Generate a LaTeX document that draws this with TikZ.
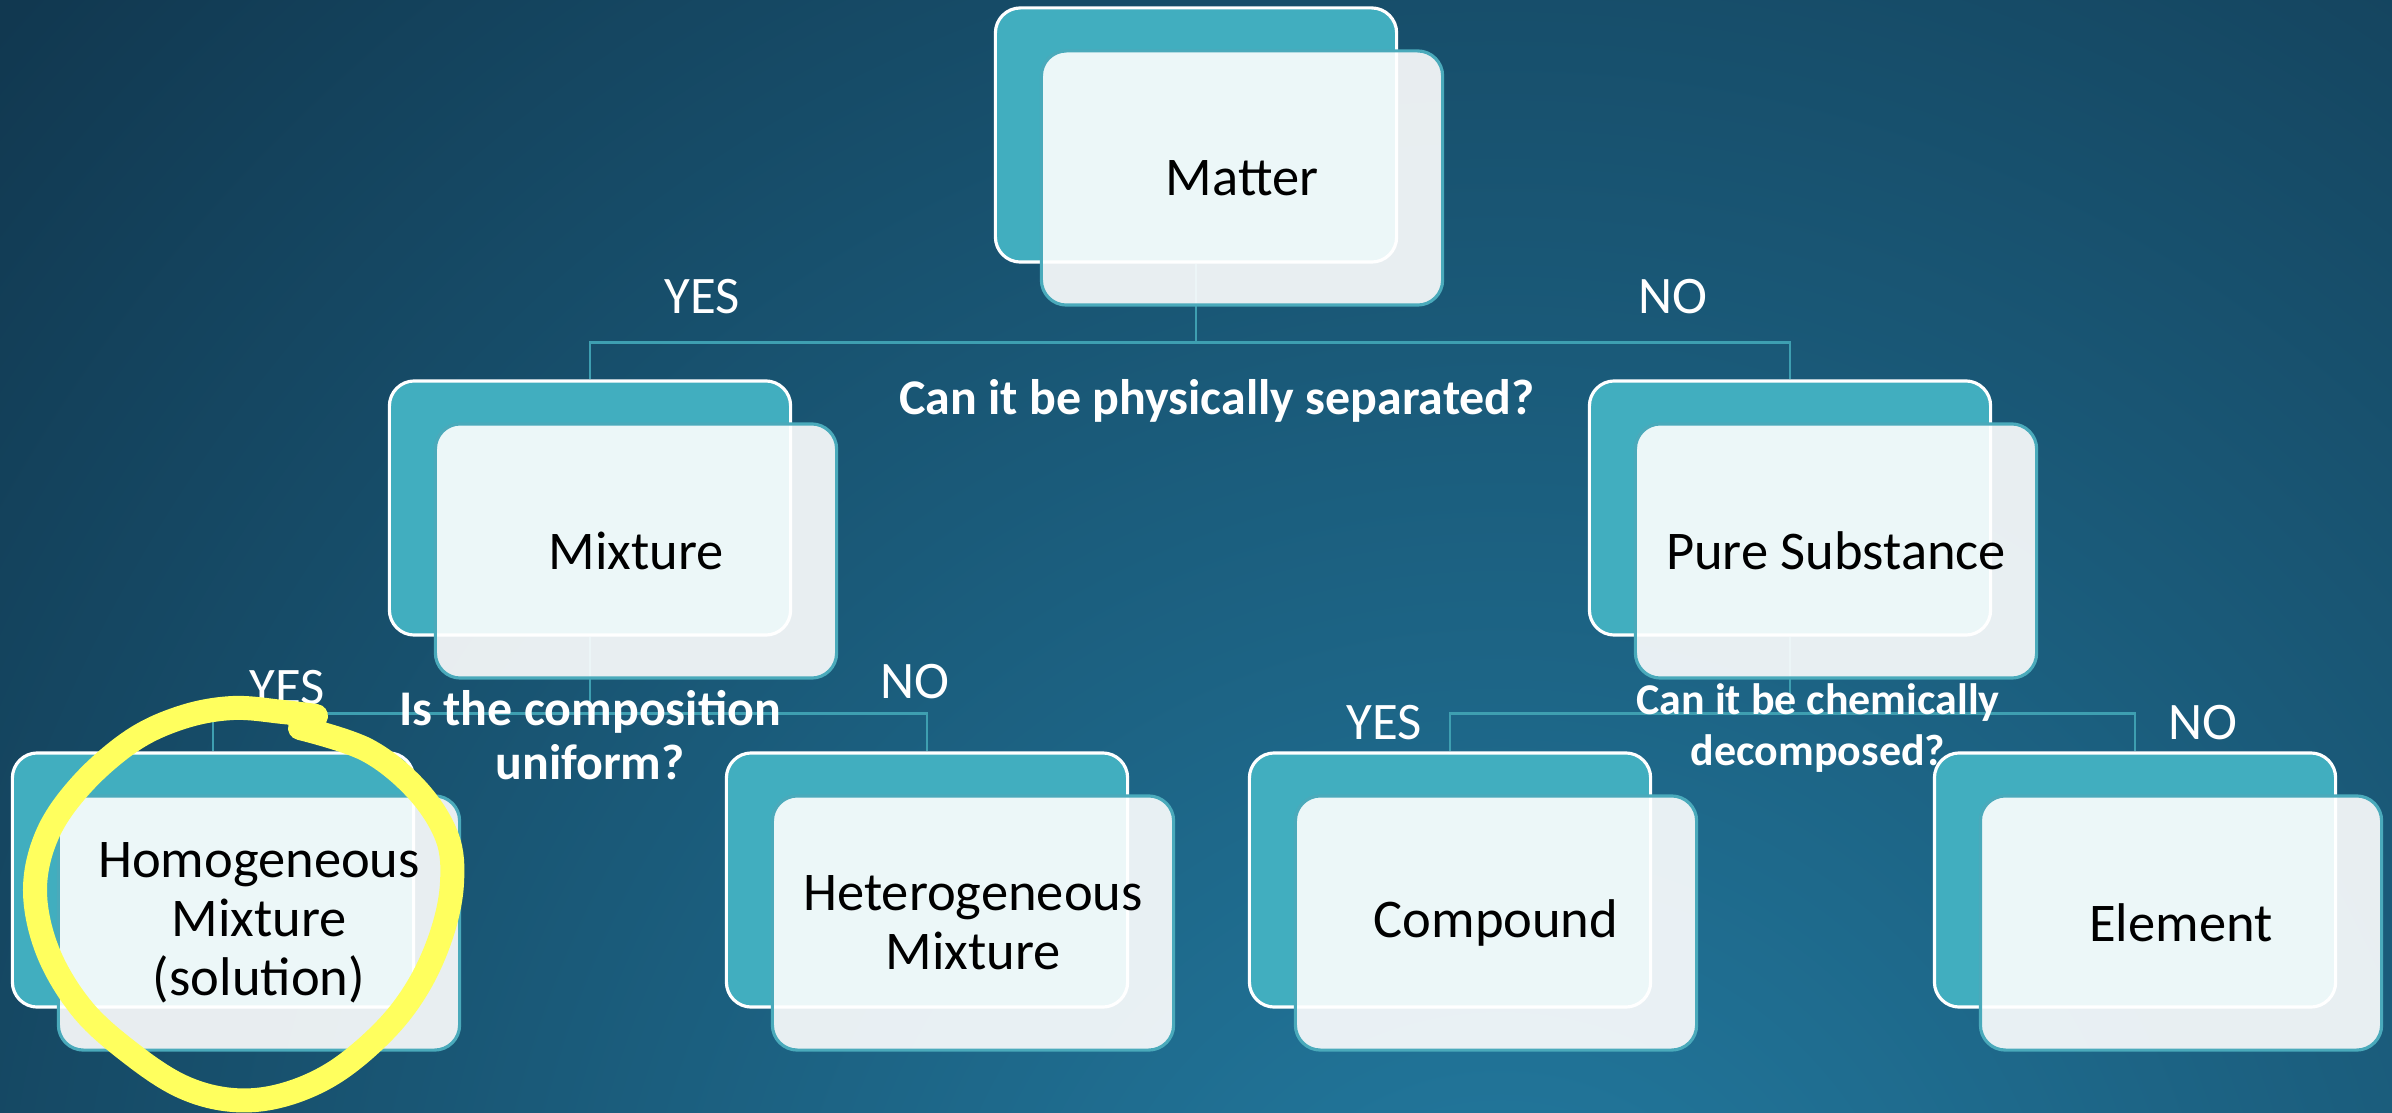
\documentclass[tikz,border=0pt]{standalone}
\usepackage{fontspec}
\setmainfont{Carlito}
\usetikzlibrary{positioning}
\definecolor{bgDark}{HTML}{113850}
\definecolor{bgLight}{HTML}{237CA2}
\definecolor{boxTeal}{HTML}{41AEBF}
\definecolor{edgeTeal}{HTML}{4AAABB}
\definecolor{lineTeal}{HTML}{3E9FB1}
\definecolor{ringYellow}{HTML}{FFFF5E}
\pgfdeclarelayer{back}
\pgfdeclarelayer{wires}
\pgfsetlayers{back,wires,main}

\begin{document}
\begin{tikzpicture}[x=0.01cm, y=-0.01cm,
  backbox/.style={draw=white, line width=0.9pt, fill=boxTeal, rounded corners=0.25cm,
    minimum width=4.01cm, minimum height=2.54cm},
  frontbox/.style={draw=edgeTeal, line width=0.9pt, fill=white, fill opacity=0.9, text opacity=1,
    rounded corners=0.25cm, minimum width=4.01cm, minimum height=2.54cm, inner sep=0pt,
    align=center, font=\fontsize{15.5}{16.8}\selectfont},
  branch/.style={draw=lineTeal, line width=0.7pt},
  answer/.style={text=white, font=\fontsize{15}{18}\selectfont},
  question/.style={text=white, align=center, font=\bfseries\fontsize{14.2}{15.2}\selectfont},
  ring/.style={draw=ringYellow, line width=0.24cm, line cap=round, line join=round}]
\useasboundingbox (0,0) rectangle (2392,1113);
% background
\begin{pgfonlayer}{back}
\clip (0,0) rectangle (2392,1113);
\fill[bgDark] (0,0) rectangle (2392,1113);
\shade[inner color=bgLight, outer color=bgDark] (1500,1350) circle (2000);
\end{pgfonlayer}

% top level
\node[backbox] (matb) at (1196,135) {};
\node[frontbox] (mat) at ([shift={(46,43)}]matb) {Matter};

% second level
\node[backbox] (mixb) at (590,508) {};
\node[frontbox] (mix) at ([shift={(46,43)}]mixb) {Mixture};
\node[backbox] (pureb) at (1790,508) {};
\node[frontbox] (pure) at ([shift={(46,43)}]pureb) {Pure Substance};

% third level
\node[backbox] (homb) at (213,880) {};
\node[frontbox] (hom) at ([shift={(46,43)}]homb) {Homogeneous\\Mixture\\(solution)};
\node[backbox] (hetb) at (927,880) {};
\node[frontbox] (het) at ([shift={(46,43)}]hetb) {Heterogeneous\\Mixture};
\node[backbox] (comb) at (1450,880) {};
\node[frontbox] (com) at ([shift={(46,43)}]comb) {Compound};
\node[backbox] (eleb) at (2135,880) {};
\node[frontbox] (ele) at ([shift={(46,43)}]eleb) {Element};

% connectors
\begin{pgfonlayer}{wires}
\draw[branch] (matb.south) -- ++(0,79) coordinate (bar1);
\draw[branch] (mixb.north) |- (bar1) -| (pureb.north);
\draw[branch] (mixb.south) -- ++(0,77) coordinate (bar2);
\draw[branch] (homb.north) |- (bar2) -| (hetb.north);
\draw[branch] (pureb.south) -- ++(0,77) coordinate (bar3);
\draw[branch] (comb.north) |- (bar3) -| (eleb.north);
\end{pgfonlayer}

% labels
\node[answer] (yes1) at (702,297) {YES};
\node[answer] (no1) at (1673,297) {NO};
\node[question] (q1) at (1217,401) {Can it be physically separated?};
\node[answer] (yes2) at (287,688) {YES};
\node[answer] (no2) at (915,682) {NO};
\node[question] (q2) at (590,735) {Is the composition\\uniform?};
\node[answer] (yes3) at (1384,723) {YES};
\node[answer] (no3) at (2203,723) {NO};
\node[question, font=\bfseries\fontsize{12.5}{14.5}\selectfont] (q3) at (1818,728) {Can it be chemically\\decomposed?};

% highlight
\draw[ring] plot[smooth, tension=0.6] coordinates {(300,728) (367,750) (417,790) (447,837) (452,883)
  (442,933) (419,985) (385,1030) (335,1072) (283,1095) (233,1100) (183,1087) (133,1055) (83,1010)
  (48,952) (35,890) (48,833) (83,783) (133,740) (183,717) (233,708) (283,712) (316,716)};
\end{tikzpicture}
\end{document}
